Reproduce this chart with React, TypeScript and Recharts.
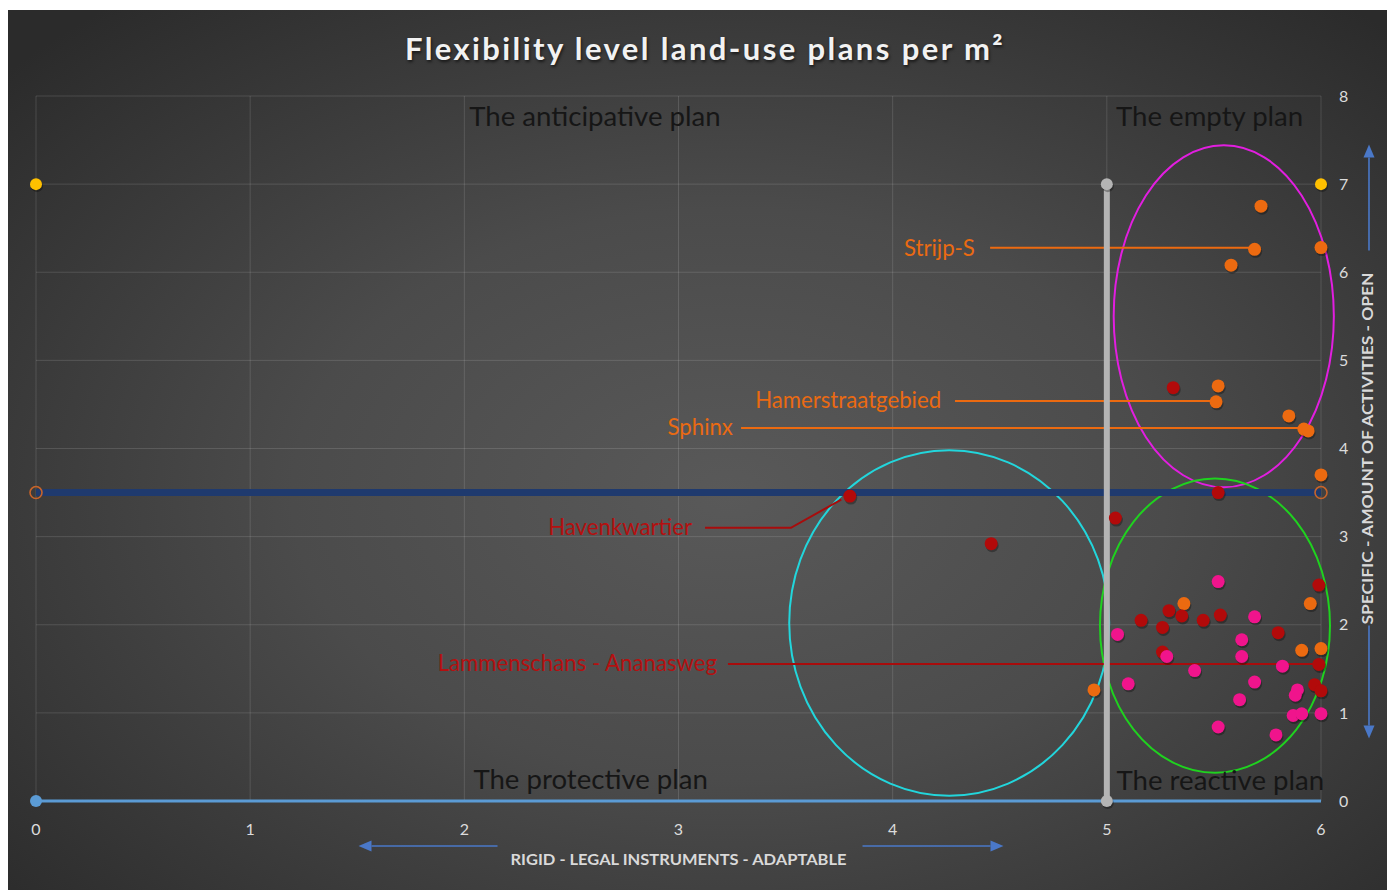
import { ScatterChart, Scatter, XAxis, YAxis, CartesianGrid, ReferenceArea } from 'recharts';

// data (x: legal instruments, y: amount of activities)
const orangePlans = [
  { x: 5.72, y: 6.75 }, { x: 5.69, y: 6.26 }, { x: 6.0, y: 6.28 }, { x: 5.58, y: 6.08 },
  { x: 5.52, y: 4.71 }, { x: 5.51, y: 4.53 }, { x: 5.85, y: 4.37 }, { x: 5.92, y: 4.22 },
  { x: 5.94, y: 4.2 }, { x: 6.0, y: 3.7 }, { x: 5.36, y: 2.24 }, { x: 5.95, y: 2.24 },
  { x: 6.0, y: 1.73 }, { x: 5.91, y: 1.71 }, { x: 4.94, y: 1.26 },
];

const redPlans = [
  { x: 5.31, y: 4.69 }, { x: 5.52, y: 3.5 }, { x: 5.04, y: 3.21 }, { x: 3.8, y: 3.46 },
  { x: 4.46, y: 2.92 }, { x: 5.99, y: 2.45 }, { x: 5.29, y: 2.16 }, { x: 5.35, y: 2.1 },
  { x: 5.16, y: 2.05 }, { x: 5.45, y: 2.05 }, { x: 5.53, y: 2.11 }, { x: 5.26, y: 1.97 },
  { x: 5.8, y: 1.91 }, { x: 5.26, y: 1.69 }, { x: 5.99, y: 1.55 }, { x: 5.97, y: 1.32 },
  { x: 6.0, y: 1.25 },
];

const pinkPlans = [
  { x: 5.52, y: 2.49 }, { x: 5.69, y: 2.09 }, { x: 5.05, y: 1.89 }, { x: 5.63, y: 1.83 },
  { x: 5.28, y: 1.64 }, { x: 5.63, y: 1.64 }, { x: 5.82, y: 1.53 }, { x: 5.41, y: 1.48 },
  { x: 5.1, y: 1.33 }, { x: 5.69, y: 1.35 }, { x: 5.89, y: 1.26 }, { x: 5.88, y: 1.2 },
  { x: 5.62, y: 1.15 }, { x: 5.87, y: 0.97 }, { x: 5.91, y: 0.99 }, { x: 6.0, y: 0.99 },
  { x: 5.52, y: 0.84 }, { x: 5.79, y: 0.75 },
];

// helper series (borders of the quadrants)
const topCorners = [{ x: 0, y: 7 }, { x: 6, y: 7 }];
const middleLine = [{ x: 0, y: 3.5 }, { x: 6, y: 3.5 }];
const baseLine = [{ x: 0, y: 0 }, { x: 6, y: 0 }];
const splitLine = [{ x: 5, y: 0 }, { x: 5, y: 7 }];

// ellipses around the groups: centre and radii in axis units
const groups = [
  { cx: 5.546, cy: 5.5, rx: 0.514, ry: 1.94, color: '#e21ee0' },
  { cx: 4.264, cy: 2.02, rx: 0.747, ry: 1.96, color: '#22d6dc' },
  { cx: 5.505, cy: 1.99, rx: 0.537, ry: 1.67, color: '#1fd21f' },
];

// named plans with their leader lines
const strijpLine = [{ x: 4.455, y: 6.277 }, { x: 5.687, y: 6.277 }];
const hamerLine = [{ x: 4.291, y: 4.54 }, { x: 5.505, y: 4.54 }];
const sphinxLine = [{ x: 3.292, y: 4.234 }, { x: 5.925, y: 4.234 }];
const havenLine = [{ x: 3.124, y: 3.1 }, { x: 3.525, y: 3.1 }, { x: 3.76, y: 3.42 }];
const lammenLine = [{ x: 3.231, y: 1.555 }, { x: 5.995, y: 1.555 }];

const planNames = [
  { x: 4.384, y: 6.277, label: 'Strijp-S', color: '#ea6a12' },
  { x: 4.226, y: 4.552, label: 'Hamerstraatgebied', color: '#ea6a12' },
  { x: 3.254, y: 4.245, label: 'Sphinx', color: '#ea6a12' },
  { x: 3.063, y: 3.11, label: 'Havenkwartier', color: '#b41010' },
  { x: 3.18, y: 1.566, label: 'Lammenschans - Ananasweg', color: '#b41010' },
];

const quadrantNames = [
  { x: 2.61, y: 7.775, label: 'The anticipative plan' },
  { x: 5.48, y: 7.775, label: 'The empty plan' },
  { x: 2.59, y: 0.26, label: 'The protective plan' },
  { x: 5.53, y: 0.24, label: 'The reactive plan' },
];

const xTicks = [0, 1, 2, 3, 4, 5, 6];
const yTicks = [0, 1, 2, 3, 4, 5, 6, 7, 8];

const FONT = 'Lato, "Open Sans", sans-serif';
const ORANGE = '#ec6a10';
const RED = '#b20a0a';
const PINK = '#f0148c';
const ARROW = '#4a78c8';

const dot = (fill: string, r = 6.5) => (p: any) => (
  <g>
    <circle cx={p.cx + 1} cy={p.cy + 2} r={r} fill="rgba(0,0,0,0.3)" />
    <circle cx={p.cx} cy={p.cy} r={r} fill={fill} />
  </g>
);
const noDot = () => <g />;

const arrow = (x1: number, y1: number, x2: number, y2: number) => {
  const a = Math.atan2(y2 - y1, x2 - x1);
  const l = 13, w = 5.5;
  const bx = x2 - l * Math.cos(a), by = y2 - l * Math.sin(a);
  const pts = `${x2},${y2} ${bx - w * Math.sin(a)},${by + w * Math.cos(a)} ${bx + w * Math.sin(a)},${by - w * Math.cos(a)}`;
  return (
    <g>
      <line x1={x1} y1={y1} x2={bx} y2={by} stroke={ARROW} strokeWidth={1.6} />
      <polygon points={pts} fill={ARROW} />
    </g>
  );
};

const XTitle = ({ viewBox }: any) => {
  const cx = viewBox.x + viewBox.width / 2;
  const y = viewBox.y;
  return (
    <g>
      {arrow(cx - 181, y + 45, cx - 320, y + 45)}
      {arrow(cx + 184, y + 45, cx + 325, y + 45)}
      <text x={cx} y={y + 58} textAnchor="middle" dominantBaseline="central" fill="#d9d9d9"
        fontFamily={FONT} fontWeight={700} fontSize={15} textLength={336} lengthAdjust="spacingAndGlyphs">
        RIGID - LEGAL INSTRUMENTS - ADAPTABLE
      </text>
    </g>
  );
};

const YTitle = ({ viewBox }: any) => {
  const x = viewBox.x + 46;
  const cy = viewBox.y + viewBox.height / 2;
  return (
    <g>
      {arrow(x + 2, cy - 198, x + 2, cy - 304)}
      {arrow(x + 2, cy + 177, x + 2, cy + 290)}
      <text x={x} y={cy} textAnchor="middle" dominantBaseline="central" fill="#d9d9d9"
        fontFamily={FONT} fontWeight={700} fontSize={15} textLength={352} lengthAdjust="spacingAndGlyphs"
        transform={`rotate(-90 ${x} ${cy})`}>
        SPECIFIC - AMOUNT OF ACTIVITIES - OPEN
      </text>
    </g>
  );
};

const ellipseShape = (color: string) => (p: any) => (
  <ellipse cx={p.x + p.width / 2} cy={p.y + p.height / 2} rx={p.width / 2} ry={p.height / 2}
    fill="none" stroke={color} strokeWidth={2} />
);

const planName = (p: any) => (
  <text x={p.cx} y={p.cy} textAnchor="end" dominantBaseline="central" fill={p.payload.color}
    fontFamily={FONT} fontSize={22.2}>
    {p.payload.label}
  </text>
);

const quadrantName = (p: any) => (
  <text x={p.cx} y={p.cy} textAnchor="middle" dominantBaseline="central" fill="#161616"
    fontFamily={FONT} fontSize={27.6}>
    {p.payload.label}
  </text>
);

export default function App() {
  return (
    <div
      style={{
        position: 'relative',
        width: 1387,
        height: 880,
        marginTop: 2,
        background: 'radial-gradient(ellipse 70% 72% at 52% 55%, #595959 0%, #4b4b4b 45%, #2b2b2b 100%)',
        fontFamily: FONT,
      }}
    >
      <div
        style={{
          position: 'absolute',
          left: 0,
          width: 1394,
          top: 19,
          textAlign: 'center',
          color: '#f2f2f2',
          fontSize: 31,
          fontWeight: 700,
          letterSpacing: 2.4,
          textShadow: '1px 2px 3px rgba(0,0,0,0.6)',
        }}
      >
        Flexibility level land-use plans per m²
      </div>
      <ScatterChart width={1387} height={880} margin={{ top: 86, right: 20, bottom: 49, left: 28 }}>
        <CartesianGrid stroke="rgba(255,255,255,0.13)" strokeWidth={1} />
        <XAxis
          type="number"
          dataKey="x"
          domain={[0, 6]}
          ticks={xTicks}
          height={40}
          axisLine={false}
          tickLine={false}
          tickMargin={17}
          tick={{ fill: '#dcdcdc', fontSize: 16, fontFamily: FONT }}
          label={{ content: XTitle }}
        />
        <YAxis
          type="number"
          dataKey="y"
          orientation="right"
          domain={[0, 8]}
          ticks={yTicks}
          width={54}
          axisLine={false}
          tickLine={false}
          tickMargin={12}
          tick={{ fill: '#dcdcdc', fontSize: 16, fontFamily: FONT }}
          label={{ content: YTitle }}
        />

        <Scatter data={middleLine} isAnimationActive={false} line={{ stroke: '#1f3a6e', strokeWidth: 7 }}
          shape={(p: any) => <circle cx={p.cx} cy={p.cy} r={6} fill="none" stroke="#c8642a" strokeWidth={1.6} />} />
        <Scatter data={baseLine} isAnimationActive={false} line={{ stroke: '#5b9bd5', strokeWidth: 3 }}
          shape={(p: any) => (p.payload.x === 0 ? <circle cx={p.cx} cy={p.cy} r={6} fill="#5b9bd5" /> : <g />)} />

        <Scatter data={strijpLine} isAnimationActive={false} line={{ stroke: ORANGE, strokeWidth: 2 }} shape={noDot} />
        <Scatter data={hamerLine} isAnimationActive={false} line={{ stroke: ORANGE, strokeWidth: 2 }} shape={noDot} />
        <Scatter data={sphinxLine} isAnimationActive={false} line={{ stroke: ORANGE, strokeWidth: 2 }} shape={noDot} />
        <Scatter data={havenLine} isAnimationActive={false} line={{ stroke: '#a80c0c', strokeWidth: 2 }} shape={noDot} />
        <Scatter data={lammenLine} isAnimationActive={false} line={{ stroke: '#a80c0c', strokeWidth: 2 }} shape={noDot} />

        <Scatter data={splitLine} isAnimationActive={false} line={{ stroke: '#b4b4b4', strokeWidth: 6 }}
          shape={dot('#b4b4b4', 6)} />

        <Scatter data={orangePlans} isAnimationActive={false} shape={dot(ORANGE)} />
        <Scatter data={redPlans} isAnimationActive={false} shape={dot(RED)} />
        <Scatter data={pinkPlans} isAnimationActive={false} shape={dot(PINK)} />
        <Scatter data={topCorners} isAnimationActive={false} shape={dot('#ffc000', 6)} />

        {groups.map((g, i) => (
          <ReferenceArea
            key={i}
            x1={g.cx - g.rx}
            x2={g.cx + g.rx}
            y1={g.cy - g.ry}
            y2={g.cy + g.ry}
            ifOverflow="visible"
            shape={ellipseShape(g.color)}
          />
        ))}

        <Scatter data={planNames} isAnimationActive={false} shape={planName} />
        <Scatter data={quadrantNames} isAnimationActive={false} shape={quadrantName} />
      </ScatterChart>
    </div>
  );
}
